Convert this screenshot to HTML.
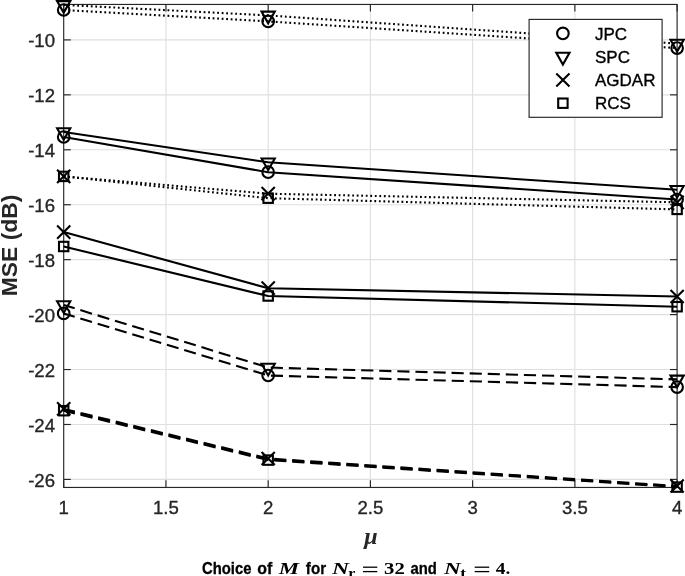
<!DOCTYPE html>
<html><head><meta charset="utf-8"><title>plot</title>
<style>
html,body{margin:0;padding:0;background:#fff;}
body{width:685px;height:576px;overflow:hidden;position:relative;}
svg{position:absolute;left:0;top:0;display:block;}
svg{filter:grayscale(1);}
text{font-family:"Liberation Sans",sans-serif;fill:#262626;}
text.k{fill:#000;}
text.cp{stroke:#000;stroke-width:0.3px;}
text.lg{stroke:#000;stroke-width:0.35px;}
text.tk{stroke:#262626;stroke-width:0.35px;}
</style></head><body>
<svg width="685" height="576" viewBox="0 0 685 576">
<rect x="0" y="0" width="685" height="576" fill="#ffffff"/>
<g stroke="#dfdfdf" stroke-width="1.1" fill="none">
<line x1="165.94" y1="4.45" x2="165.94" y2="487.45"/>
<line x1="268.17" y1="4.45" x2="268.17" y2="487.45"/>
<line x1="370.40" y1="4.45" x2="370.40" y2="487.45"/>
<line x1="472.64" y1="4.45" x2="472.64" y2="487.45"/>
<line x1="574.88" y1="4.45" x2="574.88" y2="487.45"/>
<line x1="63.7" y1="479.42" x2="677.1" y2="479.42"/>
<line x1="63.7" y1="424.48" x2="677.1" y2="424.48"/>
<line x1="63.7" y1="369.54" x2="677.1" y2="369.54"/>
<line x1="63.7" y1="314.60" x2="677.1" y2="314.60"/>
<line x1="63.7" y1="259.66" x2="677.1" y2="259.66"/>
<line x1="63.7" y1="204.72" x2="677.1" y2="204.72"/>
<line x1="63.7" y1="149.78" x2="677.1" y2="149.78"/>
<line x1="63.7" y1="94.84" x2="677.1" y2="94.84"/>
<line x1="63.7" y1="39.90" x2="677.1" y2="39.90"/>
</g>
<g stroke="#262626" stroke-width="1.15" fill="none">
<rect x="63.7" y="4.45" width="613.40" height="483.00"/>
<line x1="63.70" y1="487.45" x2="63.70" y2="480.34999999999997"/>
<line x1="63.70" y1="4.45" x2="63.70" y2="11.55"/>
<line x1="165.94" y1="487.45" x2="165.94" y2="480.34999999999997"/>
<line x1="165.94" y1="4.45" x2="165.94" y2="11.55"/>
<line x1="268.17" y1="487.45" x2="268.17" y2="480.34999999999997"/>
<line x1="268.17" y1="4.45" x2="268.17" y2="11.55"/>
<line x1="370.40" y1="487.45" x2="370.40" y2="480.34999999999997"/>
<line x1="370.40" y1="4.45" x2="370.40" y2="11.55"/>
<line x1="472.64" y1="487.45" x2="472.64" y2="480.34999999999997"/>
<line x1="472.64" y1="4.45" x2="472.64" y2="11.55"/>
<line x1="574.88" y1="487.45" x2="574.88" y2="480.34999999999997"/>
<line x1="574.88" y1="4.45" x2="574.88" y2="11.55"/>
<line x1="677.11" y1="487.45" x2="677.11" y2="480.34999999999997"/>
<line x1="677.11" y1="4.45" x2="677.11" y2="11.55"/>
<line x1="63.7" y1="479.42" x2="70.8" y2="479.42"/>
<line x1="677.1" y1="479.42" x2="670.0" y2="479.42"/>
<line x1="63.7" y1="424.48" x2="70.8" y2="424.48"/>
<line x1="677.1" y1="424.48" x2="670.0" y2="424.48"/>
<line x1="63.7" y1="369.54" x2="70.8" y2="369.54"/>
<line x1="677.1" y1="369.54" x2="670.0" y2="369.54"/>
<line x1="63.7" y1="314.60" x2="70.8" y2="314.60"/>
<line x1="677.1" y1="314.60" x2="670.0" y2="314.60"/>
<line x1="63.7" y1="259.66" x2="70.8" y2="259.66"/>
<line x1="677.1" y1="259.66" x2="670.0" y2="259.66"/>
<line x1="63.7" y1="204.72" x2="70.8" y2="204.72"/>
<line x1="677.1" y1="204.72" x2="670.0" y2="204.72"/>
<line x1="63.7" y1="149.78" x2="70.8" y2="149.78"/>
<line x1="677.1" y1="149.78" x2="670.0" y2="149.78"/>
<line x1="63.7" y1="94.84" x2="70.8" y2="94.84"/>
<line x1="677.1" y1="94.84" x2="670.0" y2="94.84"/>
<line x1="63.7" y1="39.90" x2="70.8" y2="39.90"/>
<line x1="677.1" y1="39.90" x2="670.0" y2="39.90"/>
</g>
<g stroke="#000" stroke-width="2.1" fill="none" stroke-linejoin="round">
<polyline points="63.70,4.90 268.17,15.40 677.11,43.60" stroke-dasharray="1.8 2.72"/>
<polyline points="63.70,10.00 268.17,21.40 677.11,48.10" stroke-dasharray="1.8 2.72"/>
<polyline points="63.70,132.05 268.17,162.30 677.11,189.80"/>
<polyline points="63.70,137.00 268.17,172.20 677.11,199.50"/>
<polyline points="63.70,176.40 268.17,193.70 677.11,202.30" stroke-dasharray="1.8 2.72"/>
<polyline points="63.70,176.40 268.17,198.20 677.11,209.40" stroke-dasharray="1.8 2.72"/>
<polyline points="63.70,232.10 268.17,288.20 677.11,296.50"/>
<polyline points="63.70,246.50 268.17,296.00 677.11,306.70"/>
<polyline points="63.70,305.00 268.17,367.50 677.11,379.40" stroke-dasharray="12.17 5.92" stroke-dashoffset="0.7"/>
<polyline points="63.70,313.40 268.17,375.50 677.11,387.10" stroke-dasharray="12.17 5.92" stroke-dashoffset="0.7"/>
<polyline points="63.70,409.80 268.17,459.30 677.11,486.55" stroke-dasharray="12.17 5.92" stroke-dashoffset="0.7"/>
<polyline points="63.70,408.90 268.17,458.50 677.11,486.00" stroke-dasharray="12.17 5.92" stroke-dashoffset="0.7"/>
<polyline points="63.70,410.70 268.17,460.10 677.11,487.10" stroke-dasharray="12.17 5.92" stroke-dashoffset="0.7"/>
</g>
<g stroke="#000" stroke-width="2.1" fill="none" stroke-linejoin="miter" stroke-miterlimit="10">
<path d="M57.10 1.10L70.30 1.10L63.70 12.80Z" />
<path d="M261.57 11.60L274.77 11.60L268.17 23.30Z" />
<path d="M670.51 39.80L683.71 39.80L677.11 51.50Z" />
<circle cx="63.70" cy="10.00" r="5.8" />
<circle cx="268.17" cy="21.40" r="5.8" />
<circle cx="677.11" cy="48.10" r="5.8" />
<path d="M57.10 128.25L70.30 128.25L63.70 139.95Z" />
<path d="M261.57 158.50L274.77 158.50L268.17 170.20Z" />
<path d="M670.51 186.00L683.71 186.00L677.11 197.70Z" />
<circle cx="63.70" cy="137.00" r="5.8" />
<circle cx="268.17" cy="172.20" r="5.8" />
<circle cx="677.11" cy="199.50" r="5.8" />
<path d="M57.10 169.80L70.30 183.00M57.10 183.00L70.30 169.80" />
<path d="M261.57 187.10L274.77 200.30M261.57 200.30L274.77 187.10" />
<path d="M670.51 195.70L683.71 208.90M670.51 208.90L683.71 195.70" />
<rect x="59.00" y="171.70" width="9.40" height="9.40" />
<rect x="263.47" y="193.50" width="9.40" height="9.40" />
<rect x="672.41" y="204.70" width="9.40" height="9.40" />
<path d="M57.10 225.50L70.30 238.70M57.10 238.70L70.30 225.50" />
<path d="M261.57 281.60L274.77 294.80M261.57 294.80L274.77 281.60" />
<path d="M670.51 289.90L683.71 303.10M670.51 303.10L683.71 289.90" />
<rect x="59.00" y="241.80" width="9.40" height="9.40" />
<rect x="263.47" y="291.30" width="9.40" height="9.40" />
<rect x="672.41" y="302.00" width="9.40" height="9.40" />
<path d="M57.10 301.20L70.30 301.20L63.70 312.90Z" />
<path d="M261.57 363.70L274.77 363.70L268.17 375.40Z" />
<path d="M670.51 375.60L683.71 375.60L677.11 387.30Z" />
<circle cx="63.70" cy="313.40" r="5.8" />
<circle cx="268.17" cy="375.50" r="5.8" />
<circle cx="677.11" cy="387.10" r="5.8" />
<path d="M57.10 402.30L70.30 415.50M57.10 415.50L70.30 402.30" />
<path d="M261.57 451.90L274.77 465.10M261.57 465.10L274.77 451.90" />
<path d="M670.51 479.40L683.71 492.60M670.51 492.60L683.71 479.40" />
<rect x="59.00" y="406.00" width="9.40" height="9.40" />
<rect x="263.47" y="455.40" width="9.40" height="9.40" />
<rect x="672.41" y="482.40" width="9.40" height="9.40" />
</g>
<rect x="529.1" y="19.4" width="133" height="97.9" fill="#fff" stroke="#262626" stroke-width="1.15"/>
<g stroke="#000" stroke-width="2.1" fill="none" stroke-linejoin="miter">
<circle cx="562.90" cy="33.40" r="5.8" />
<path d="M556.30 52.80L569.50 52.80L562.90 64.50Z" />
<path d="M556.30 73.40L569.50 86.60M556.30 86.60L569.50 73.40" />
<rect x="558.20" y="98.50" width="9.40" height="9.40" />
</g>
<text x="595.0" y="39.7" font-size="17" class="k lg">JPC</text>
<text x="595.0" y="62.9" font-size="17" class="k lg">SPC</text>
<text x="595.0" y="86.3" font-size="17" class="k lg">AGDAR</text>
<text x="595.0" y="109.4" font-size="17" class="k lg">RCS</text>
<text x="63.70" y="514.4" font-size="18.6" text-anchor="middle" class="tk">1</text>
<text x="165.94" y="514.4" font-size="18.6" text-anchor="middle" class="tk">1.5</text>
<text x="268.17" y="514.4" font-size="18.6" text-anchor="middle" class="tk">2</text>
<text x="370.40" y="514.4" font-size="18.6" text-anchor="middle" class="tk">2.5</text>
<text x="472.64" y="514.4" font-size="18.6" text-anchor="middle" class="tk">3</text>
<text x="574.88" y="514.4" font-size="18.6" text-anchor="middle" class="tk">3.5</text>
<text x="677.11" y="514.4" font-size="18.6" text-anchor="middle" class="tk">4</text>
<text x="55.0" y="486.82" font-size="18.6" text-anchor="end" class="tk">-26</text>
<text x="55.0" y="431.88" font-size="18.6" text-anchor="end" class="tk">-24</text>
<text x="55.0" y="376.94" font-size="18.6" text-anchor="end" class="tk">-22</text>
<text x="55.0" y="322.00" font-size="18.6" text-anchor="end" class="tk">-20</text>
<text x="55.0" y="267.06" font-size="18.6" text-anchor="end" class="tk">-18</text>
<text x="55.0" y="212.12" font-size="18.6" text-anchor="end" class="tk">-16</text>
<text x="55.0" y="157.18" font-size="18.6" text-anchor="end" class="tk">-14</text>
<text x="55.0" y="102.24" font-size="18.6" text-anchor="end" class="tk">-12</text>
<text x="55.0" y="47.30" font-size="18.6" text-anchor="end" class="tk">-10</text>
<text x="364.2" y="544.3" font-size="22.4" font-weight="bold" font-style="italic" style="font-family:&quot;Liberation Serif&quot;,serif" textLength="13.4" lengthAdjust="spacingAndGlyphs">μ</text>
<text transform="translate(17,245.4) rotate(-90)" font-size="22.9" font-weight="bold" text-anchor="middle">MSE (dB)</text>
<text x="201.94" y="574.1" font-size="16.2" font-weight="bold" textLength="49.51" lengthAdjust="spacingAndGlyphs" class="k cp">Choice</text>
<text x="257.34" y="574.1" font-size="16.2" font-weight="bold" textLength="15.02" lengthAdjust="spacingAndGlyphs" class="k cp">of</text>
<text x="278.86" y="574.1" style="font-family:&quot;Liberation Serif&quot;,serif" font-style="italic" font-weight="bold" font-size="16.5" textLength="20.31" lengthAdjust="spacingAndGlyphs" class="k">M</text>
<text x="305.87" y="574.1" font-size="16.2" font-weight="bold" textLength="20.18" lengthAdjust="spacingAndGlyphs" class="k cp">for</text>
<text x="332.14" y="574.1" style="font-family:&quot;Liberation Serif&quot;,serif" font-style="italic" font-weight="bold" font-size="16.5" textLength="17.07" lengthAdjust="spacingAndGlyphs" class="k">N</text>
<text x="348.31" y="577.3" style="font-family:&quot;Liberation Serif&quot;,serif" font-weight="bold" font-size="12" textLength="7.14" lengthAdjust="spacingAndGlyphs" class="k">r</text>
<text x="384.03" y="574.1" style="font-family:&quot;Liberation Serif&quot;,serif" font-weight="bold" font-size="15.9" textLength="20.74" lengthAdjust="spacingAndGlyphs" class="k">32</text>
<text x="410.4" y="574.1" font-size="16.2" font-weight="bold" textLength="26.38" lengthAdjust="spacingAndGlyphs" class="k cp">and</text>
<text x="444.14" y="574.1" style="font-family:&quot;Liberation Serif&quot;,serif" font-style="italic" font-weight="bold" font-size="16.5" textLength="16.75" lengthAdjust="spacingAndGlyphs" class="k">N</text>
<text x="460.3" y="577.3" style="font-family:&quot;Liberation Serif&quot;,serif" font-weight="bold" font-size="12" textLength="5.74" lengthAdjust="spacingAndGlyphs" class="k">t</text>
<text x="495.74" y="574.1" style="font-family:&quot;Liberation Serif&quot;,serif" font-weight="bold" font-size="15.9" textLength="14.54" lengthAdjust="spacingAndGlyphs" class="k">4.</text>
<g stroke="#000" stroke-width="1.3" fill="none">
<line x1="363.0" y1="567.2" x2="377.3" y2="567.2"/>
<line x1="363.0" y1="571.6" x2="377.3" y2="571.6"/>
<line x1="474.7" y1="567.2" x2="489.2" y2="567.2"/>
<line x1="474.7" y1="571.6" x2="489.2" y2="571.6"/>
</g>
</svg></body></html>
